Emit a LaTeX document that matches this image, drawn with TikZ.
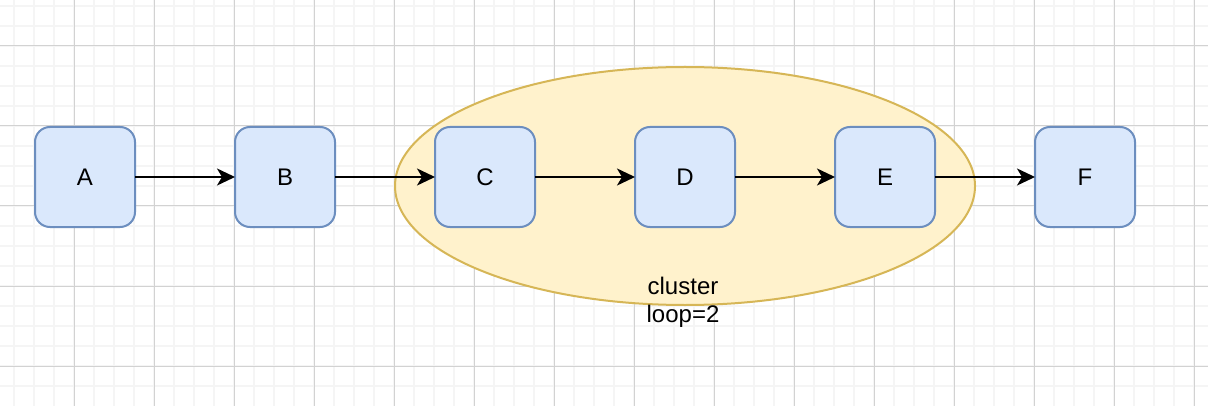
\documentclass[tikz,border=0pt]{standalone}
\usepackage{fontspec}
\setmainfont{Liberation Sans}
\usepackage{tikz}
\usetikzlibrary{positioning,arrows.meta,shapes.geometric}
\definecolor{bfill}{HTML}{DAE8FC}
\definecolor{bline}{HTML}{6C8EBF}
\definecolor{cfill}{HTML}{FFF2CC}
\definecolor{cline}{HTML}{D6B656}
\definecolor{gminor}{HTML}{F5F5F5}
\definecolor{gmajor}{HTML}{D2D2D2}

\begin{document}
\begin{tikzpicture}[x=0.5pt, y=-0.5pt, font=\fontsize{12}{14}\selectfont,
  blk/.style={draw=bline, fill=bfill, line width=1pt, rounded corners=7.5pt,
    minimum width=50pt, minimum height=50pt, inner sep=0pt, outer sep=0pt},
  clu/.style={ellipse, draw=cline, fill=cfill, line width=1pt,
    minimum width=290pt, minimum height=119pt, inner sep=0pt},
  arr/.style={-{Stealth[length=9pt, width=8.5pt, inset=2.5pt]}, line width=1pt},
  gmin/.style={draw=gminor, line width=0.75pt},
  gmaj/.style={draw=gmajor, line width=0.5pt}]

\useasboundingbox (0,0) rectangle (1208,406);
\fill[white] (0,0) rectangle (1208,406);

% --- background grid ---
\foreach \gx in {14,34,...,1194} \draw[gmin] (\gx,0) -- (\gx,406);
\foreach \gy in {6,26,...,386} \draw[gmin] (0,\gy) -- (1208,\gy);
\foreach \gx in {74,154,...,1194} \draw[gmaj] (\gx,0) -- (\gx,406);
\foreach \gy in {46,126,...,366} \draw[gmaj] (0,\gy) -- (1208,\gy);

% --- cluster behind the chain ---
\node[clu] (cl) at (685,186) {};
\node[align=center] (cllab) at (683,302) {cluster\\loop=2};

% --- the chain, left to right ---
\node[blk] (a) at (85,177) {A};
\node[blk, right=50pt of a] (b) {B};
\node[blk, right=50pt of b] (c) {C};
\node[blk, right=50pt of c] (d) {D};
\node[blk, right=50pt of d] (e) {E};
\node[blk, right=50pt of e] (f) {F};

\draw[arr] (a) -- (b);
\draw[arr] (b) -- (c);
\draw[arr] (c) -- (d);
\draw[arr] (d) -- (e);
\draw[arr] (e) -- (f);
\end{tikzpicture}
\end{document}
